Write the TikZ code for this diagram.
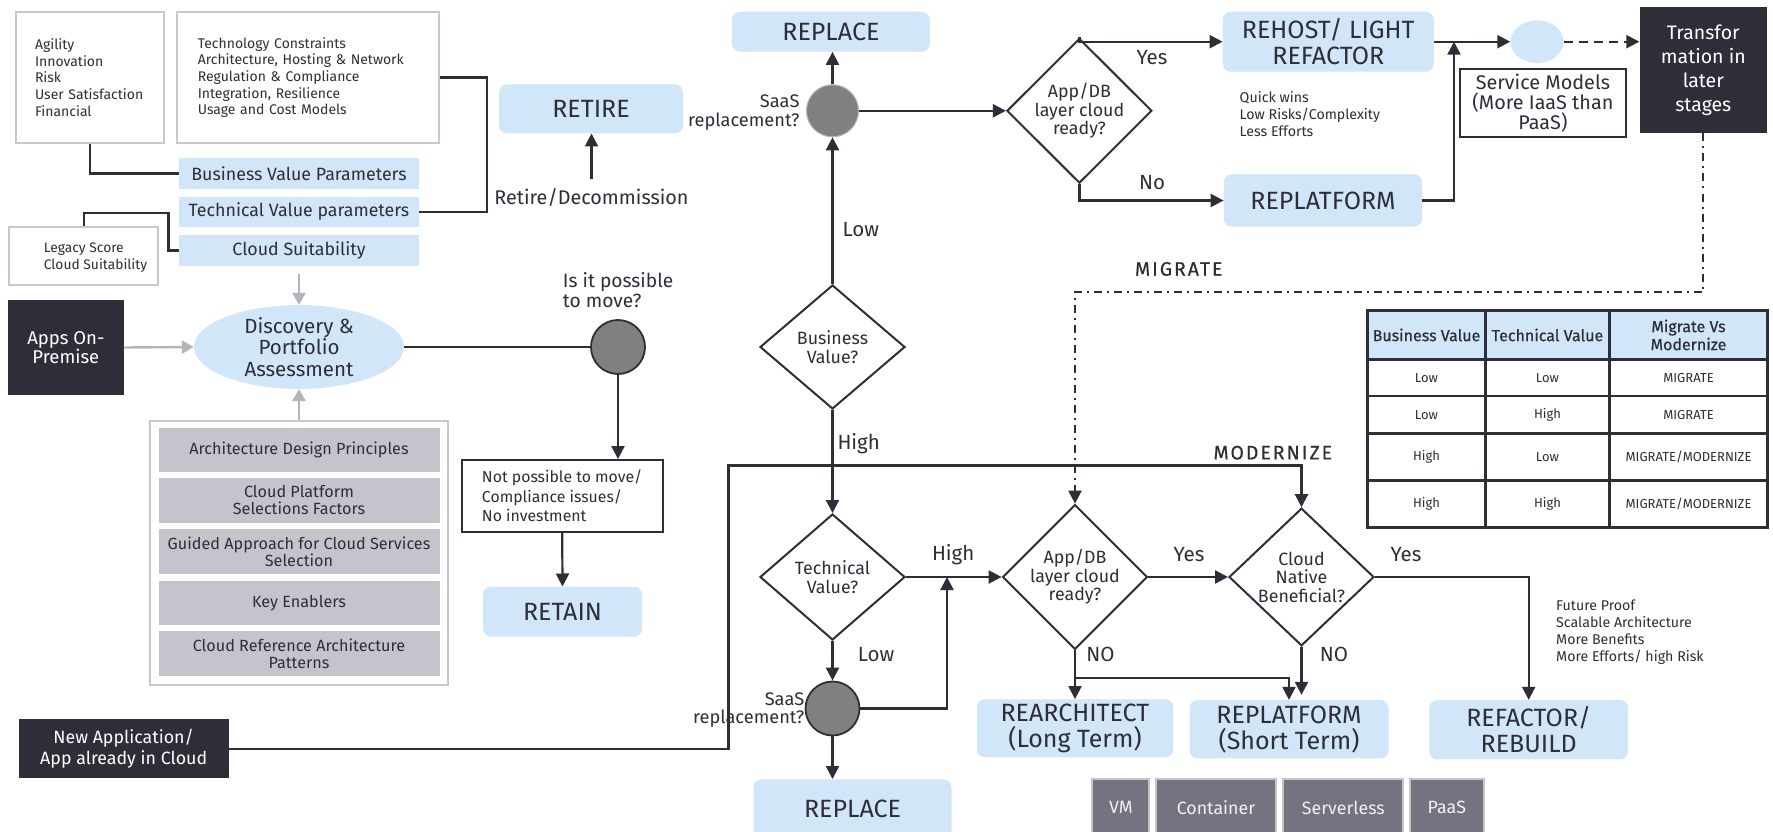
\documentclass[tikz,border=0pt]{standalone}
\usepackage{fontspec}
\setmainfont{Fira Sans}
\newfontfamily\headfont[FakeBold=0.6]{Fira Sans}
\newfontfamily\phasefont[FakeBold=0.4,LetterSpace=10]{Fira Sans}
\usetikzlibrary{arrows.meta,shapes.geometric,calc}
\definecolor{ink}{HTML}{2E2E38}
\definecolor{skyfill}{HTML}{D1E6F8}
\definecolor{framegray}{HTML}{C8C8D0}
\definecolor{tilegray}{HTML}{C4C4CD}
\definecolor{slate}{HTML}{747480}
\definecolor{dotgray}{HTML}{808080}
\definecolor{feedgray}{HTML}{B4B4BC}
\newcommand\fsz[2]{\fontsize{#1}{#2}\selectfont}
\tikzset{
  every node/.style={text=ink},
  flow/.style={draw=ink, line width=2.2pt},
  arr/.style={flow, -{Triangle[length=13pt,width=13pt]}},
  feed/.style={draw=feedgray, line width=2.4pt, -{Triangle[length=12pt,width=13pt]}},
  outcome/.style={fill=skyfill, rounded corners=8pt, inner sep=0pt, align=center, font=\fsz{25}{25.8}},
  param/.style={fill=skyfill, inner sep=0pt, font=\fsz{17.8}{20}},
  darkbox/.style={fill=ink, text=white, inner sep=0pt, align=center, font=\fsz{18.5}{19.5}},
  listbox/.style={draw=framegray, line width=2pt, fill=white, align=left, inner ysep=0pt, font=\fsz{14}{16.7}},
  tile/.style={fill=tilegray, inner sep=0pt, align=center, minimum width=281pt, minimum height=44.5pt, font=\fsz{16.2}{17}},
  decision/.style={diamond, draw=ink, line width=2pt, fill=white, inner sep=0pt, align=center, font=\fsz{17.8}{18.5}},
  junction/.style={circle, fill=dotgray, draw=ink, line width=1.8pt, minimum size=54pt, inner sep=0pt},
  textbox/.style={draw=ink, line width=1.8pt, fill=white, inner ysep=0pt},
  note/.style={align=left, inner sep=0pt, font=\fsz{14.2}{16.8}},
  lbl/.style={inner sep=0pt, font=\fsz{20.5}{22}},
  phase/.style={inner sep=0pt, font=\phasefont\fsz{19.5}{22}},
  cell/.style={draw=ink, line width=2.5pt, inner sep=0pt, align=center, font=\fsz{13}{16}},
  headcell/.style={cell, fill=skyfill, font=\headfont\fsz{16}{18}},
  svcbox/.style={fill=slate, draw=tilegray, line width=2pt, text=white!90!slate, inner sep=0pt, minimum height=57pt, font=\fsz{17.8}{20}},
  dashdot/.style={dash pattern=on 8pt off 5pt on 2pt off 5pt},
  dashline/.style={dash pattern=on 9pt off 6pt}
}
\begin{document}
\begin{tikzpicture}[x=1pt,y=-1pt]
\fill[white] (0,0) rectangle (1773,832);
\useasboundingbox (0,0) rectangle (1773,832);

% ---------- assessment inputs ----------
\node[listbox, minimum width=148pt, minimum height=131pt, text width=110pt, inner xsep=19pt] (bizlist) at (90,77.5)
  {Agility\\Innovation\\Risk\\User Satisfaction\\Financial};
\node[listbox, minimum width=262pt, minimum height=131pt, text width=220.4pt, inner xsep=20.8pt] (techlist) at (308,77.5)
  {Technology Constraints\\Architecture, Hosting \& Network\\Regulation \& Compliance\\Integration, Resilience\\Usage and Cost Models};
\node[param, minimum width=240pt, minimum height=30.4pt] (bvp) at (299,173.5) {Business Value Parameters};
\node[param, minimum width=240pt, minimum height=30pt] (tvp) at (299,211.7) {Technical Value parameters};
\node[param, minimum width=240pt, minimum height=30.4pt] (cs) at (299,250.5) {Cloud Suitability};
\node[draw=framegray, line width=2pt, fill=white, minimum width=149.5pt, minimum height=58pt, inner sep=0pt] (legacy) at (83.7,256) {};
\node[note, anchor=west, font=\fsz{13.8}{17}] (legacytxt) at (43.7,257.5) {Legacy Score\\Cloud Suitability};

\draw[flow] (bizlist.south) |- (bvp.west);
\draw[flow] (techlist.east) -- ++(47.3,0) |- (tvp.east);
\draw[flow] (legacy.north) -- ++(0,-12.7) -| ($(cs.west)+(-10.3,0)$) -- (cs.west);

% ---------- discovery ----------
\node[darkbox, minimum width=115.7pt, minimum height=95pt] (apps) at (65.9,347.5) {Apps On-\\Premise};
\node[ellipse, fill=skyfill, minimum width=210pt, minimum height=82pt, inner sep=0pt, align=center, font=\fsz{20.5}{21.5}] (disc) at (299,347)
  {Discovery \&\\Portfolio\\Assessment};
\node[draw=framegray, line width=2pt, fill=white, minimum width=297.3pt, minimum height=264.3pt, inner sep=0pt] (factors) at (299,552.9) {};
\node[tile] (g1) at (299,450) {Architecture Design Principles};
\node[tile] (g2) at (299,500.5) {Cloud Platform\\Selections Factors};
\node[tile] (g3) at (299,551.7) {Guided Approach for Cloud Services\\Selection};
\node[tile] (g4) at (299,602.9) {Key Enablers};
\node[tile] (g5) at (299,653.5) {Cloud Reference Architecture\\Patterns};

\draw[feed, shorten <=8pt] (cs.south) -- (disc.north);
\draw[feed] (apps.east) -- (disc.west);
\draw[feed] (factors.north) -- (disc.south);

% ---------- move / retire / retain ----------
\node[junction] (move) at (618,347) {};
\node[lbl, align=left, anchor=west, font=\fsz{19.2}{19.4}] (movq) at (562.7,290.3) {Is it possible\\to move?};
\node[textbox, minimum width=201pt, minimum height=71.7pt, inner xsep=0pt, align=left, font=\fsz{15.8}{19.2}] (notposs) at (562.2,495.8)
  {Not possible to move/\\Compliance issues/\\No investment};
\node[outcome, minimum width=159pt, minimum height=50pt] (retain) at (562.5,611.7) {RETAIN};
\node[outcome, minimum width=184pt, minimum height=49pt] (retire) at (591,108.8) {RETIRE};
\node[lbl, font=\fsz{19.8}{22}] (decom) at (591.5,197.3) {Retire/Decommission};

\draw[flow] (disc.east) -- (move.west);
\draw[arr] (move.south) -- (move.south |- notposs.north);
\draw[arr] (notposs.south) -- (retain.north);
\draw[arr, shorten <=9pt] (decom.north) -- (decom.north |- retire.south);

% ---------- business value branch ----------
\node[decision, minimum width=145pt, minimum height=124pt] (bv) at (832.5,347) {Business\\Value?};
\node[junction, draw=feedgray, line width=1pt, minimum size=52pt] (saas1) at (832.5,110.8) {};
\node[lbl, align=right, anchor=east, font=\fsz{18.2}{18.5}] (saas1q) at (799.6,112.8) {SaaS\\replacement?};
\node[outcome, minimum width=198pt, minimum height=40pt] (replace1) at (830.9,31.7) {REPLACE};
\node[decision, minimum width=145pt, minimum height=124pt] (appdb1) at (1079.4,110.8) {App/DB\\layer cloud\\ready?};
\node[outcome, minimum width=211pt, minimum height=60pt] (rehost) at (1328.3,41.7) {REHOST/ LIGHT\\REFACTOR};
\node[outcome, minimum width=198.4pt, minimum height=52.4pt] (replat1) at (1323,200.5) {REPLATFORM};
\node[note, anchor=west] (quick) at (1239.5,114.2) {Quick wins\\Low Risks/Complexity\\Less Efforts};
\node[ellipse, fill=skyfill, minimum width=53pt, minimum height=42.6pt, inner sep=0pt] (svc) at (1537,41.7) {};
\node[textbox, minimum width=165.7pt, minimum height=68pt, inner xsep=0pt, align=center, font=\fsz{19.8}{20}] (svcmodels) at (1542.9,103.3)
  {Service Models\\(More IaaS than\\PaaS)};
\node[darkbox, minimum width=127.4pt, minimum height=126pt, font=\fsz{19.5}{24.1}] (transf) at (1703.3,70.3) {Transfor\\mation in\\later\\stages};
\coordinate (merge) at (1454,41.7);

\draw[arr] (bv.north) -- (saas1.south);
\node[lbl, anchor=west] (lowbv) at (842.4,229.3) {Low};
\draw[arr] (saas1.north) -- (saas1.north |- replace1.south);
\draw[arr] (saas1.east) -- (appdb1.west);
\draw[arr] (appdb1.north) |- (rehost.west);
\draw[arr] (appdb1.south) |- (replat1.west);
\node[lbl] (yes1) at (1152,57.3) {Yes};
\node[lbl] (no1) at (1152,182.3) {No};
\draw[arr] (rehost.east) -- (svc.west);
\draw[arr] (replat1.east) -| (merge);
\draw[arr, dashline] (svc.east) -- (svc.east -| transf.west);

% ---------- migrate / modernize ----------
\node[phase] (migrate) at (1178.7,269) {MIGRATE};
\node[phase] (modernize) at (1272.8,452.7) {MODERNIZE};
\node[darkbox, minimum width=210pt, minimum height=59pt, font=\fsz{17.8}{20.7}] (newapp) at (123.7,748.8) {New Application/\\App already in Cloud};
\coordinate (modcorner) at (728.5,465.5);

\node[decision, minimum width=145pt, minimum height=126pt] (tv) at (832.5,577) {Technical\\Value?};
\node[junction] (saas2) at (832.5,708.5) {};
\node[lbl, align=right, anchor=east, font=\fsz{18.2}{18.5}] (saas2q) at (804.5,710.3) {SaaS\\replacement?};
\node[outcome, minimum width=198pt, minimum height=58.7pt] (replace2) at (852.5,808.6) {REPLACE};
\node[decision, minimum width=144pt, minimum height=125pt] (appdb2) at (1075,577) {App/DB\\layer cloud\\ready?};
\node[decision, minimum width=145pt, minimum height=125pt] (cn) at (1301.5,577) {Cloud\\Native\\Beneficial?};
\node[outcome, minimum width=196.4pt, minimum height=58pt] (rearch) at (1075,728.3) {REARCHITECT\\(Long Term)};
\node[outcome, minimum width=199pt, minimum height=58.3pt] (replat2) at (1289,729.2) {REPLATFORM\\(Short Term)};
\node[outcome, minimum width=198.7pt, minimum height=59.3pt] (refactor) at (1528.7,729.7) {REFACTOR/\\REBUILD};
\node[note, anchor=west] (future) at (1556,632) {Future Proof\\Scalable Architecture\\More Benefits\\More Efforts/ high Risk};
\coordinate (techjoin) at (947,577);

\draw[arr] (bv.south) -- (tv.north);
\node[lbl, anchor=west] (highbv) at (837.3,443.3) {High};
\draw[arr] (newapp.east) -| (modcorner) -| (cn.north);
\draw[arr, dashdot] (transf.south) -- ++(0,158.4) -| (appdb2.north);
\draw[arr] (tv.south) -- (saas2.north);
\node[lbl, anchor=west] (lowtv) at (857.7,654.3) {Low};
\draw[arr] (saas2.south) -- (saas2.south |- replace2.north);
\draw[arr] (saas2.east) -| (techjoin);
\draw[arr] (tv.east) -- (appdb2.west);
\node[lbl] (hightv) at (953.2,555) {High};
\draw[arr] (appdb2.east) -- (cn.west);
\node[lbl] (yes2) at (1189,555) {Yes};
\draw[arr] (cn.east) -| (refactor.north);
\node[lbl] (yes3) at (1406,555) {Yes};
\draw[arr] (appdb2.south) -- (rearch.north);
\draw[arr] (appdb2.south) -- ++(0,28) -| (replat2.north);
\draw[arr, shorten >=5pt] (cn.south) -- (cn.south |- replat2.north);
\node[lbl] (no2) at (1100.5,654.3) {NO};
\node[lbl] (no3) at (1334,654.3) {NO};

% ---------- service models row ----------
\node[svcbox, minimum width=57pt] (vm) at (1120.8,807.5) {VM};
\node[svcbox, minimum width=120pt] (container) at (1216,807.5) {Container};
\node[svcbox, minimum width=120pt] (serverless) at (1343.3,807.5) {Serverless};
\node[svcbox, minimum width=73.5pt] (paas) at (1446.8,807.5) {PaaS};

% ---------- decision table ----------
\node[headcell, minimum width=118.4pt, minimum height=48.6pt] (th1) at (1426.5,335) {Business Value};
\node[headcell, minimum width=123.6pt, minimum height=48.6pt] (th2) at (1547.5,335) {Technical Value};
\node[headcell, minimum width=158.4pt, minimum height=48.6pt] (th3) at (1688.5,335) {Migrate Vs\\Modernize};
\node[cell, minimum width=118.4pt, minimum height=36.7pt] (t11) at (1426.5,377.65) {Low};
\node[cell, minimum width=123.6pt, minimum height=36.7pt] (t12) at (1547.5,377.65) {Low};
\node[cell, minimum width=158.4pt, minimum height=36.7pt] (t13) at (1688.5,377.65) {MIGRATE};
\node[cell, minimum width=118.4pt, minimum height=37.3pt] (t21) at (1426.5,414.65) {Low};
\node[cell, minimum width=123.6pt, minimum height=37.3pt] (t22) at (1547.5,414.65) {High};
\node[cell, minimum width=158.4pt, minimum height=37.3pt] (t23) at (1688.5,414.65) {MIGRATE};
\node[cell, minimum width=118.4pt, minimum height=47.4pt] (t31) at (1426.5,457) {High};
\node[cell, minimum width=123.6pt, minimum height=47.4pt] (t32) at (1547.5,457) {Low};
\node[cell, minimum width=158.4pt, minimum height=47.4pt] (t33) at (1688.5,457) {MIGRATE/MODERNIZE};
\node[cell, minimum width=118.4pt, minimum height=46.6pt] (t41) at (1426.5,504) {High};
\node[cell, minimum width=123.6pt, minimum height=46.6pt] (t42) at (1547.5,504) {High};
\node[cell, minimum width=158.4pt, minimum height=46.6pt] (t43) at (1688.5,504) {MIGRATE/MODERNIZE};
\end{tikzpicture}
\end{document}
